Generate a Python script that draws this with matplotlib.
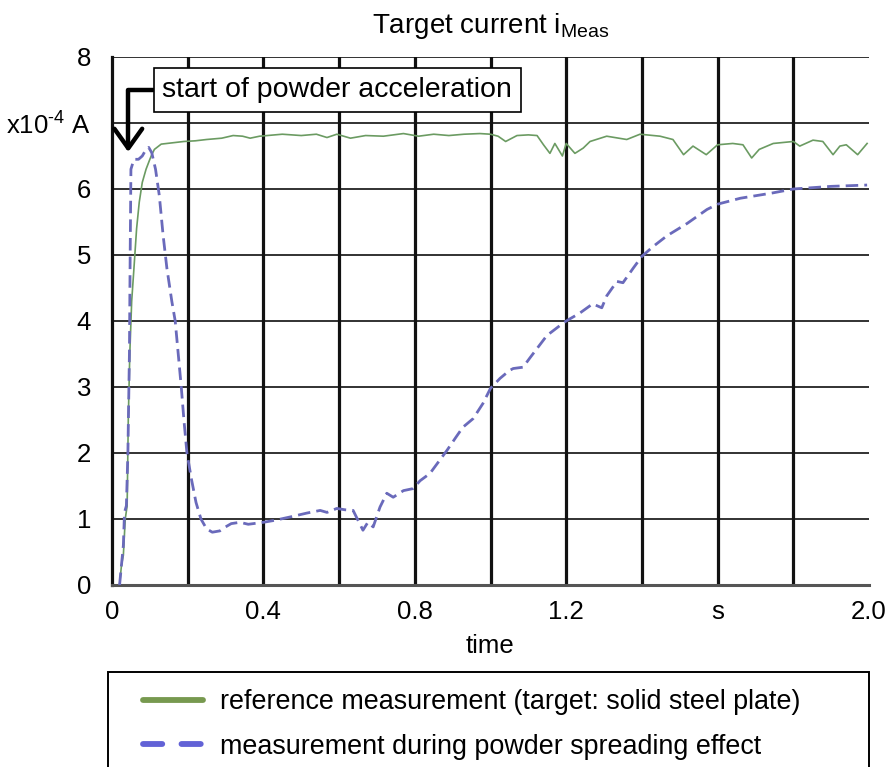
import matplotlib
matplotlib.use("Agg")
import matplotlib.pyplot as plt
from matplotlib.lines import Line2D
from matplotlib.patches import Rectangle

plt.rcParams['font.family'] = ['Liberation Sans', 'DejaVu Sans']
plt.rcParams['mathtext.fontset'] = 'custom'
plt.rcParams['mathtext.rm'] = 'Liberation Sans'
plt.rcParams['mathtext.it'] = 'Liberation Sans:italic'
plt.rcParams['mathtext.bf'] = 'Liberation Sans:bold'

# ---- data ----
ref_t = [0.02, 0.025, 0.03, 0.035, 0.04, 0.043, 0.047, 0.052, 0.058, 0.065, 0.072, 0.08, 0.09, 0.1,
         0.105, 0.112, 0.13, 0.16, 0.19, 0.22, 0.25, 0.27, 0.29, 0.32, 0.345, 0.365, 0.39, 0.41, 0.45,
         0.5, 0.54, 0.568, 0.594, 0.63, 0.67, 0.717, 0.77, 0.81, 0.85, 0.89, 0.93, 0.972, 1.0, 1.02,
         1.04, 1.07, 1.1, 1.123, 1.14, 1.157, 1.17, 1.19, 1.2, 1.223, 1.245, 1.263, 1.307, 1.36,
         1.395, 1.448, 1.482, 1.51, 1.535, 1.57, 1.6, 1.64, 1.667, 1.69, 1.71, 1.747, 1.8, 1.817,
         1.852, 1.878, 1.905, 1.923, 1.94, 1.97, 1.995]
ref_v = [0.0, 0.3, 0.45, 1.0, 1.2, 2.5, 3.5, 4.3, 4.8, 5.4, 5.8, 6.1, 6.3, 6.45,
         6.52, 6.6, 6.68, 6.7, 6.72, 6.73, 6.75, 6.76, 6.77, 6.81, 6.8, 6.77, 6.8, 6.81, 6.83,
         6.81, 6.83, 6.78, 6.83, 6.77, 6.81, 6.8, 6.84, 6.8, 6.83, 6.81, 6.83, 6.84, 6.83, 6.8,
         6.72, 6.81, 6.82, 6.81, 6.67, 6.54, 6.69, 6.5, 6.69, 6.54, 6.62, 6.72, 6.8, 6.75,
         6.83, 6.8, 6.75, 6.52, 6.65, 6.52, 6.67, 6.69, 6.67, 6.47, 6.6, 6.69, 6.72, 6.65,
         6.74, 6.72, 6.52, 6.65, 6.67, 6.52, 6.69]

powder_t = [0.02, 0.025, 0.03, 0.033, 0.038, 0.042, 0.046, 0.048, 0.05, 0.058, 0.07, 0.08, 0.09,
            0.097, 0.105, 0.115, 0.125, 0.135, 0.145, 0.158, 0.167, 0.175, 0.183, 0.19, 0.198,
            0.21, 0.222, 0.235, 0.25, 0.265, 0.285, 0.3, 0.315, 0.338, 0.36, 0.4, 0.43, 0.47,
            0.515, 0.55, 0.568, 0.594, 0.615, 0.637, 0.663, 0.676, 0.69, 0.708, 0.726, 0.743,
            0.77, 0.795, 0.814, 0.84, 0.867, 0.885, 0.91, 0.927, 0.954, 0.98, 1.0, 1.025, 1.05,
            1.06, 1.086, 1.104, 1.149, 1.19, 1.2, 1.236, 1.27, 1.294, 1.307, 1.334, 1.35, 1.377,
            1.4, 1.43, 1.466, 1.52, 1.572, 1.6, 1.66, 1.745, 1.8, 1.9, 1.995]
powder_v = [0.0, 0.3, 0.6, 1.1, 1.2, 2.0, 3.5, 5.0, 6.3, 6.45, 6.45, 6.5, 6.6,
            6.63, 6.55, 6.3, 5.9, 5.3, 4.8, 4.3, 4.0, 3.5, 3.0, 2.5, 2.0,
            1.6, 1.25, 1.0, 0.85, 0.8, 0.82, 0.88, 0.93, 0.95, 0.92, 0.95, 0.98, 1.03,
            1.09, 1.13, 1.1, 1.16, 1.14, 1.13, 0.83, 0.95, 0.88, 1.18, 1.39, 1.33,
            1.43, 1.46, 1.58, 1.69, 1.9, 2.04, 2.25, 2.39, 2.52, 2.75, 2.98, 3.13, 3.25,
            3.28, 3.3, 3.44, 3.78, 3.96, 4.0, 4.12, 4.26, 4.2, 4.38, 4.6, 4.58, 4.8,
            4.98, 5.13, 5.29, 5.48, 5.69, 5.77, 5.86, 5.94, 6.0, 6.04, 6.06]

x_ticks = [0, 0.4, 0.8, 1.2, 1.6, 2.0]
x_tick_labels = ['0', '0.4', '0.8', '1.2', 's', '2.0']
y_ticks = [0, 1, 2, 3, 4, 5, 6, 7, 8]
y_tick_labels = ['0', '1', '2', '3', '4', '5', '6', 'x10$^{\\mathrm{\u2010 4}}$ A', '8']
v_grid = [0.2, 0.4, 0.6, 0.8, 1.0, 1.2, 1.4, 1.6, 1.8]
h_grid = [1, 2, 3, 4, 5, 6, 7, 8]

label_ref = 'reference measurement (target: solid steel plate)'
label_powder = 'measurement during powder spreading effect'

W, H = 889, 767
fig = plt.figure(figsize=(W / 100, H / 100), dpi=100)
ax = fig.add_axes([112 / W, 1 - 585 / H, (869 - 112) / W, (585 - 57) / H])

for g in h_grid:
    ax.axhline(g, color='#222222', lw=1.3, zorder=1)
for g in v_grid:
    ax.axvline(g, color='#111111', lw=2.3, zorder=1)

ax.plot(ref_t, ref_v, color='#6b9b62', lw=1.2, zorder=3)
ax.plot(powder_t, powder_v, color='#6a6abb', lw=2.0, dashes=(4.5, 2.2), zorder=4)

ax.set_xlim(0, 2.0)
ax.set_ylim(0, 8)
ax.set_xticks(x_ticks)
ax.set_xticklabels(x_tick_labels)
ax.set_yticks(y_ticks)
ax.set_yticklabels(y_tick_labels)
ax.tick_params(axis='both', length=0, labelsize=18.5)
ax.tick_params(axis='y', pad=15)
ax.tick_params(axis='x', pad=11)

ax.spines['right'].set_visible(False)
ax.spines['top'].set_visible(False)
ax.spines['left'].set_linewidth(2.3)
ax.spines['left'].set_color('#111111')
ax.spines['bottom'].set_linewidth(2.2)
ax.spines['bottom'].set_color('#555555')

ax.set_title('Target current i$_{\\mathrm{Meas}}$', fontsize=20, pad=17)
ax.set_xlabel('time', fontsize=18.5, labelpad=7)

ax.annotate('start of powder acceleration', xy=(0.043, 6.56), xytext=(0.595, 7.5),
            fontsize=20.5, ha='center', va='center', zorder=6,
            bbox=dict(boxstyle='square,pad=0.3', fc='white', ec='black', lw=1.2),
            arrowprops=dict(arrowstyle='->,head_length=0.7,head_width=0.5',
                            connectionstyle='angle,angleA=0,angleB=90,rad=0',
                            lw=3.2, color='black', mutation_scale=20,
                            shrinkA=0, shrinkB=0))

# legend frame
fig.add_artist(Rectangle((108 / W, 1 - 790 / H), (869 - 108) / W, (790 - 672) / H,
                         transform=fig.transFigure, fill=False, ec='black', lw=1.4,
                         clip_on=False))
handles = [Line2D([], [], color='#77994f', lw=4.2, solid_capstyle='round'),
           Line2D([], [], color='#6262d6', lw=4.2, dashes=(3.3, 3.3), dash_capstyle='round')]
fig.legend(handles, [label_ref, label_powder], loc='upper left',
           bbox_to_anchor=(130 / W, 1 - 676 / H), frameon=False, fontsize=19.4,
           handlelength=2.2, handletextpad=0.65, labelspacing=0.68, borderpad=0.0)

fig.savefig('out.png', dpi=100)
